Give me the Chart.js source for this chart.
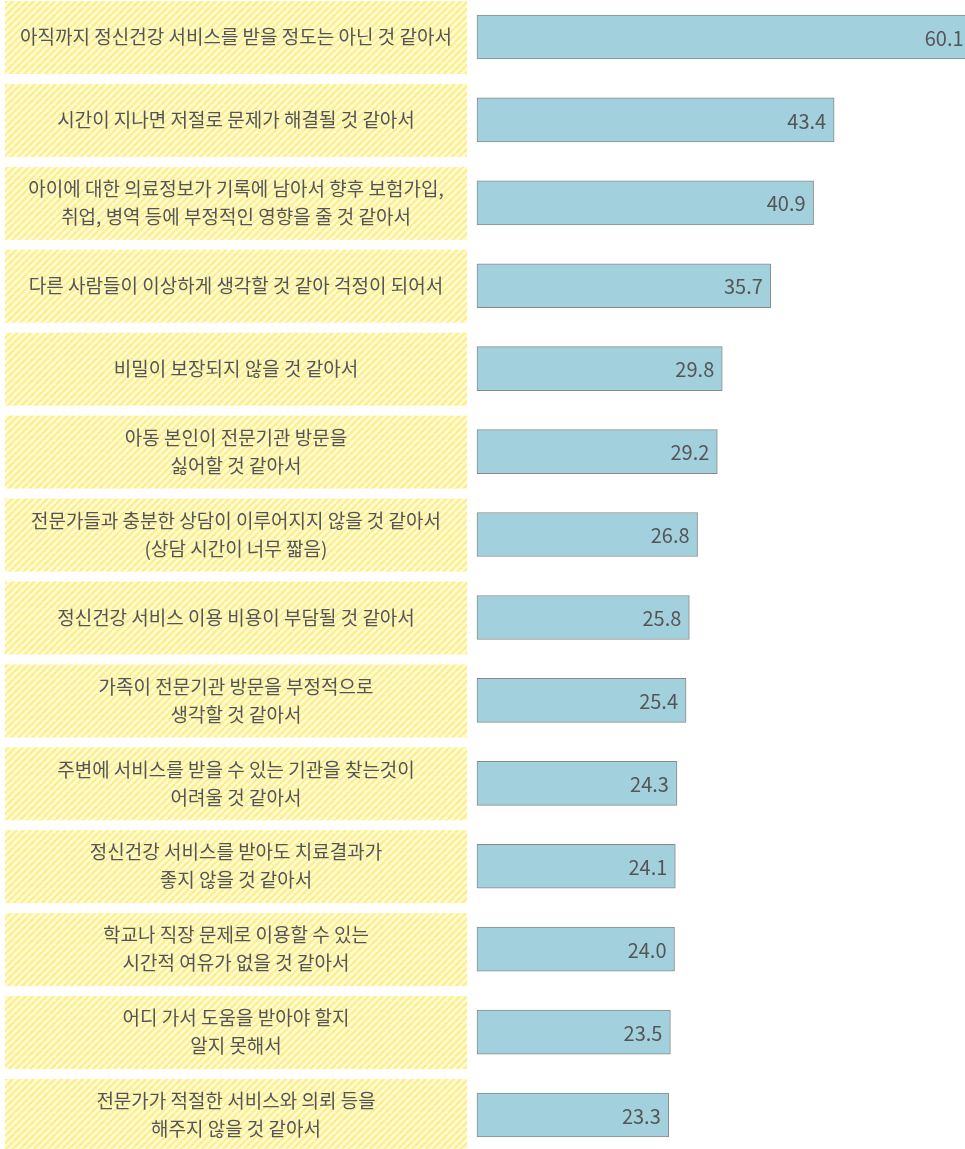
<!DOCTYPE html>
<html>
<head>
<meta charset="utf-8">
<script src="https://cdn.jsdelivr.net/npm/chart.js@4"></script>
<style>
  html, body { margin: 0; padding: 0; background: #fff; }
  #wrap { width: 965px; height: 1149px; position: relative; }
</style>
</head>
<body>
<div id="wrap"><canvas id="barChart"></canvas></div>
<script>
// 항목 (줄 단위)
const labels = [
    ['아직까지 정신건강 서비스를 받을 정도는 아닌 것 같아서'],
    ['시간이 지나면 저절로 문제가 해결될 것 같아서'],
    ['아이에 대한 의료정보가 기록에 남아서 향후 보험가입,', '취업, 병역 등에 부정적인 영향을 줄 것 같아서'],
    ['다른 사람들이 이상하게 생각할 것 같아 걱정이 되어서'],
    ['비밀이 보장되지 않을 것 같아서'],
    ['아동 본인이 전문기관 방문을', '싫어할 것 같아서'],
    ['전문가들과 충분한 상담이 이루어지지 않을 것 같아서', '(상담 시간이 너무 짧음)'],
    ['정신건강 서비스 이용 비용이 부담될 것 같아서'],
    ['가족이 전문기관 방문을 부정적으로', '생각할 것 같아서'],
    ['주변에 서비스를 받을 수 있는 기관을 찾는것이', '어려울 것 같아서'],
    ['정신건강 서비스를 받아도 치료결과가', '좋지 않을 것 같아서'],
    ['학교나 직장 문제로 이용할 수 있는', '시간적 여유가 없을 것 같아서'],
    ['어디 가서 도움을 받아야 할지', '알지 못해서'],
    ['전문가가 적절한 서비스와 의뢰 등을', '해주지 않을 것 같아서']
];
const values = [60.1, 43.4, 40.9, 35.7, 29.8, 29.2, 26.8, 25.8, 25.4, 24.3, 24.1, 24.0, 23.5, 23.3];

const FONT = '"Noto Sans CJK KR", "Noto Sans", sans-serif';

function makeHatch() {
    const c = document.createElement('canvas');
    c.width = 7; c.height = 7;
    const g = c.getContext('2d');
    g.fillStyle = '#fffbd6';
    g.fillRect(0, 0, 7, 7);
    g.strokeStyle = '#fcef8a';
    g.lineWidth = 2.4;
    g.beginPath();
    for (let k = -7; k <= 14; k += 7) {
        g.moveTo(k, 7);
        g.lineTo(k + 7, 0);
    }
    g.stroke();
    return c;
}

// 왼쪽 라벨 박스
const labelBoxes = {
    id: 'labelBoxes',
    beforeDatasetsDraw(chart) {
        const { ctx, scales: { y } } = chart;
        const pattern = ctx.createPattern(makeHatch(), 'repeat');
        ctx.save();
        labels.forEach((lines, i) => {
            const cy = y.getPixelForValue(i);
            ctx.fillStyle = pattern;
            ctx.fillRect(5, cy - 36, 462, 73);
            ctx.fillStyle = '#555';
            ctx.font = '19px ' + FONT;
            ctx.textAlign = 'center';
            ctx.textBaseline = 'middle';
            const lh = 28;
            const start = cy - (lines.length - 1) * lh / 2;
            lines.forEach((t, j) => ctx.fillText(t, 236, start + j * lh));
        });
        ctx.restore();
    }
};

// 막대 끝 값 표시
const valueLabels = {
    id: 'valueLabels',
    afterDatasetsDraw(chart) {
        const { ctx } = chart;
        const meta = chart.getDatasetMeta(0);
        ctx.save();
        ctx.fillStyle = '#555';
        ctx.font = '20px ' + FONT;
        ctx.textAlign = 'right';
        ctx.textBaseline = 'middle';
        meta.data.forEach((bar, i) => {
            ctx.fillText(values[i].toFixed(1), bar.x - 8, bar.y + 1);
        });
        ctx.restore();
    }
};

const ctx = document.getElementById('barChart').getContext('2d');
new Chart(ctx, {
    type: 'bar',
    data: {
        labels: labels.map(l => l.join(' ')),
        datasets: [{
            data: values,
            backgroundColor: '#a2d1dd',
            borderColor: '#8a8a8a',
            borderWidth: 1,
            borderSkipped: false,
            barThickness: 44,
            clip: false
        }]
    },
    options: {
        indexAxis: 'y',
        responsive: true,
        maintainAspectRatio: false,
        animation: false,
        layout: { padding: { left: 477, right: 0, top: 37, bottom: 34 } },
        scales: {
            x: { display: false, min: 0, max: 59.3 },
            y: { display: false, offset: false }
        },
        plugins: {
            legend: { display: false },
            tooltip: { enabled: false }
        }
    },
    plugins: [labelBoxes, valueLabels]
});
</script>
</body>
</html>
